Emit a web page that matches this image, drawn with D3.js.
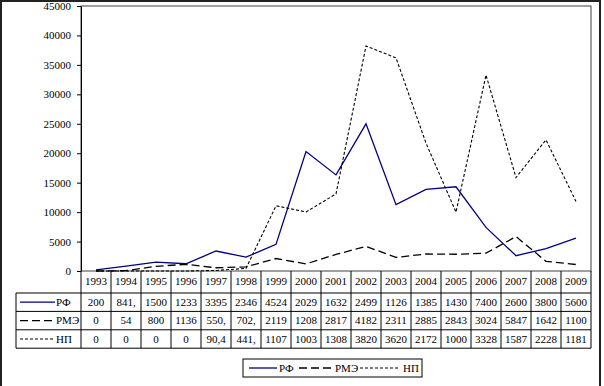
<!DOCTYPE html>
<html><head><meta charset="utf-8">
<script src="https://cdn.jsdelivr.net/npm/d3@7"></script>
<style>body{margin:0;background:#fff}svg{display:block}</style>
</head><body><svg id="c" width="604" height="386"></svg>
<script>
const years = ["1993","1994","1995","1996","1997","1998","1999","2000","2001","2002","2003","2004","2005","2006","2007","2008","2009"];
const rf  = [200, 841, 1500, 1233, 3395, 2346, 4524, 20290, 16320, 24990, 11260, 13850, 14300, 7400, 2600, 3800, 5600];
const rme = [0, 54, 800, 1136, 550, 702, 2119, 1208, 2817, 4182, 2311, 2885, 2843, 3024, 5847, 1642, 1100];
const np  = [0, 0, 0, 0, 90.4, 441, 11070, 10030, 13080, 38200, 36200, 21720, 10000, 33280, 15870, 22280, 11810];
const rfLabels  = ["200","841,","1500","1233","3395","2346","4524","2029","1632","2499","1126","1385","1430","7400","2600","3800","5600"];
const rmeLabels = ["0","54","800","1136","550,","702,","2119","1208","2817","4182","2311","2885","2843","3024","5847","1642","1100"];
const npLabels  = ["0","0","0","0","90,4","441,","1107","1003","1308","3820","3620","2172","1000","3328","1587","2228","1181"];
const yTicks = [0,5000,10000,15000,20000,25000,30000,35000,40000,45000];
const seriesNames = ["РФ","РМЭ","НП"];

const FONT = "Liberation Serif, Times New Roman, serif";
const FS = "11px";
const svg = d3.select("#c");
const L = 81, R = 591, T = 6, B = 271;
const x = d3.scaleBand().domain(years).range([L, R]);
const y = d3.scaleLinear().domain([0, 45000]).range([B, T]);

function txt(sel){ return sel.attr("font-family",FONT).attr("font-size",FS).attr("fill","#000"); }

svg.append("rect").attr("x",1).attr("y",1).attr("width",599).attr("height",400)
  .attr("fill","none").attr("stroke","#222").attr("stroke-width",2);
svg.append("rect").attr("x",L).attr("y",T).attr("width",R-L).attr("height",B-T)
  .attr("fill","none").attr("stroke","#404040").attr("stroke-width",1);

const ya = svg.append("g").attr("transform",`translate(${L},0)`)
  .call(d3.axisLeft(y).tickValues(yTicks).tickSize(4).tickSizeOuter(0).tickFormat(d3.format("d")));
ya.attr("font-family",FONT).attr("font-size",FS);
ya.select(".domain").attr("stroke","#000");
ya.selectAll("text").attr("x",-10);

const styles = [
  {stroke:"#000080", dash:null, w:1.3},
  {stroke:"#000", dash:"8,4", w:1.3},
  {stroke:"#000", dash:"3,2", w:1.1}
];
const data = [rf, rme, np];
const line = d3.line().x((d,i)=>x(years[i])+x.bandwidth()/2).y(d=>y(d));
data.forEach((s,k)=>{
  svg.append("path").datum(s).attr("d",line).attr("fill","none")
    .attr("stroke",styles[k].stroke).attr("stroke-width",styles[k].w)
    .attr("stroke-dasharray",styles[k].dash);
});

const TL = 16, rowH = 18.4, headB = 293;
const g = svg.append("g");
years.forEach((yr,i)=>{
  g.append("line").attr("x1",x(yr)).attr("x2",x(yr)).attr("y1",B).attr("y2",headB+rowH*3).attr("stroke","#000");
  txt(g.append("text")).attr("x",x(yr)+x.bandwidth()/2).attr("y",285).attr("text-anchor","middle").text(yr);
});
g.append("line").attr("x1",R).attr("x2",R).attr("y1",B).attr("y2",headB+rowH*3).attr("stroke","#000");
g.append("line").attr("x1",TL).attr("x2",TL).attr("y1",headB).attr("y2",headB+rowH*3).attr("stroke","#000");
for(let r=0;r<=3;r++){
  g.append("line").attr("x1",TL).attr("x2",R).attr("y1",headB+rowH*r).attr("y2",headB+rowH*r).attr("stroke","#000");
}
const labels = [rfLabels, rmeLabels, npLabels];
labels.forEach((lab,k)=>{
  const cy = headB + rowH*k + rowH/2;
  g.append("line").attr("x1",20).attr("x2",55).attr("y1",cy).attr("y2",cy)
    .attr("stroke",styles[k].stroke).attr("stroke-width",styles[k].w).attr("stroke-dasharray",styles[k].dash);
  txt(g.append("text")).attr("x",56).attr("y",cy+3.5).text(seriesNames[k]);
  lab.forEach((t,i)=>{
    txt(g.append("text")).attr("x",x(years[i])+x.bandwidth()/2).attr("y",cy+3.5).attr("text-anchor","middle").text(t);
  });
});

const lg = svg.append("g");
lg.append("rect").attr("x",243).attr("y",359).attr("width",179).attr("height",18)
  .attr("fill","none").attr("stroke","#000");
const items = [{x1:249,x2:277,tx:279},{x1:299,x2:333,tx:335},{x1:360,x2:400,tx:403}];
items.forEach((it,k)=>{
  lg.append("line").attr("x1",it.x1).attr("x2",it.x2).attr("y1",368).attr("y2",368)
    .attr("stroke",styles[k].stroke).attr("stroke-width",styles[k].w).attr("stroke-dasharray",styles[k].dash);
  txt(lg.append("text")).attr("x",it.tx).attr("y",371.5).text(seriesNames[k]);
});
</script></body></html>
